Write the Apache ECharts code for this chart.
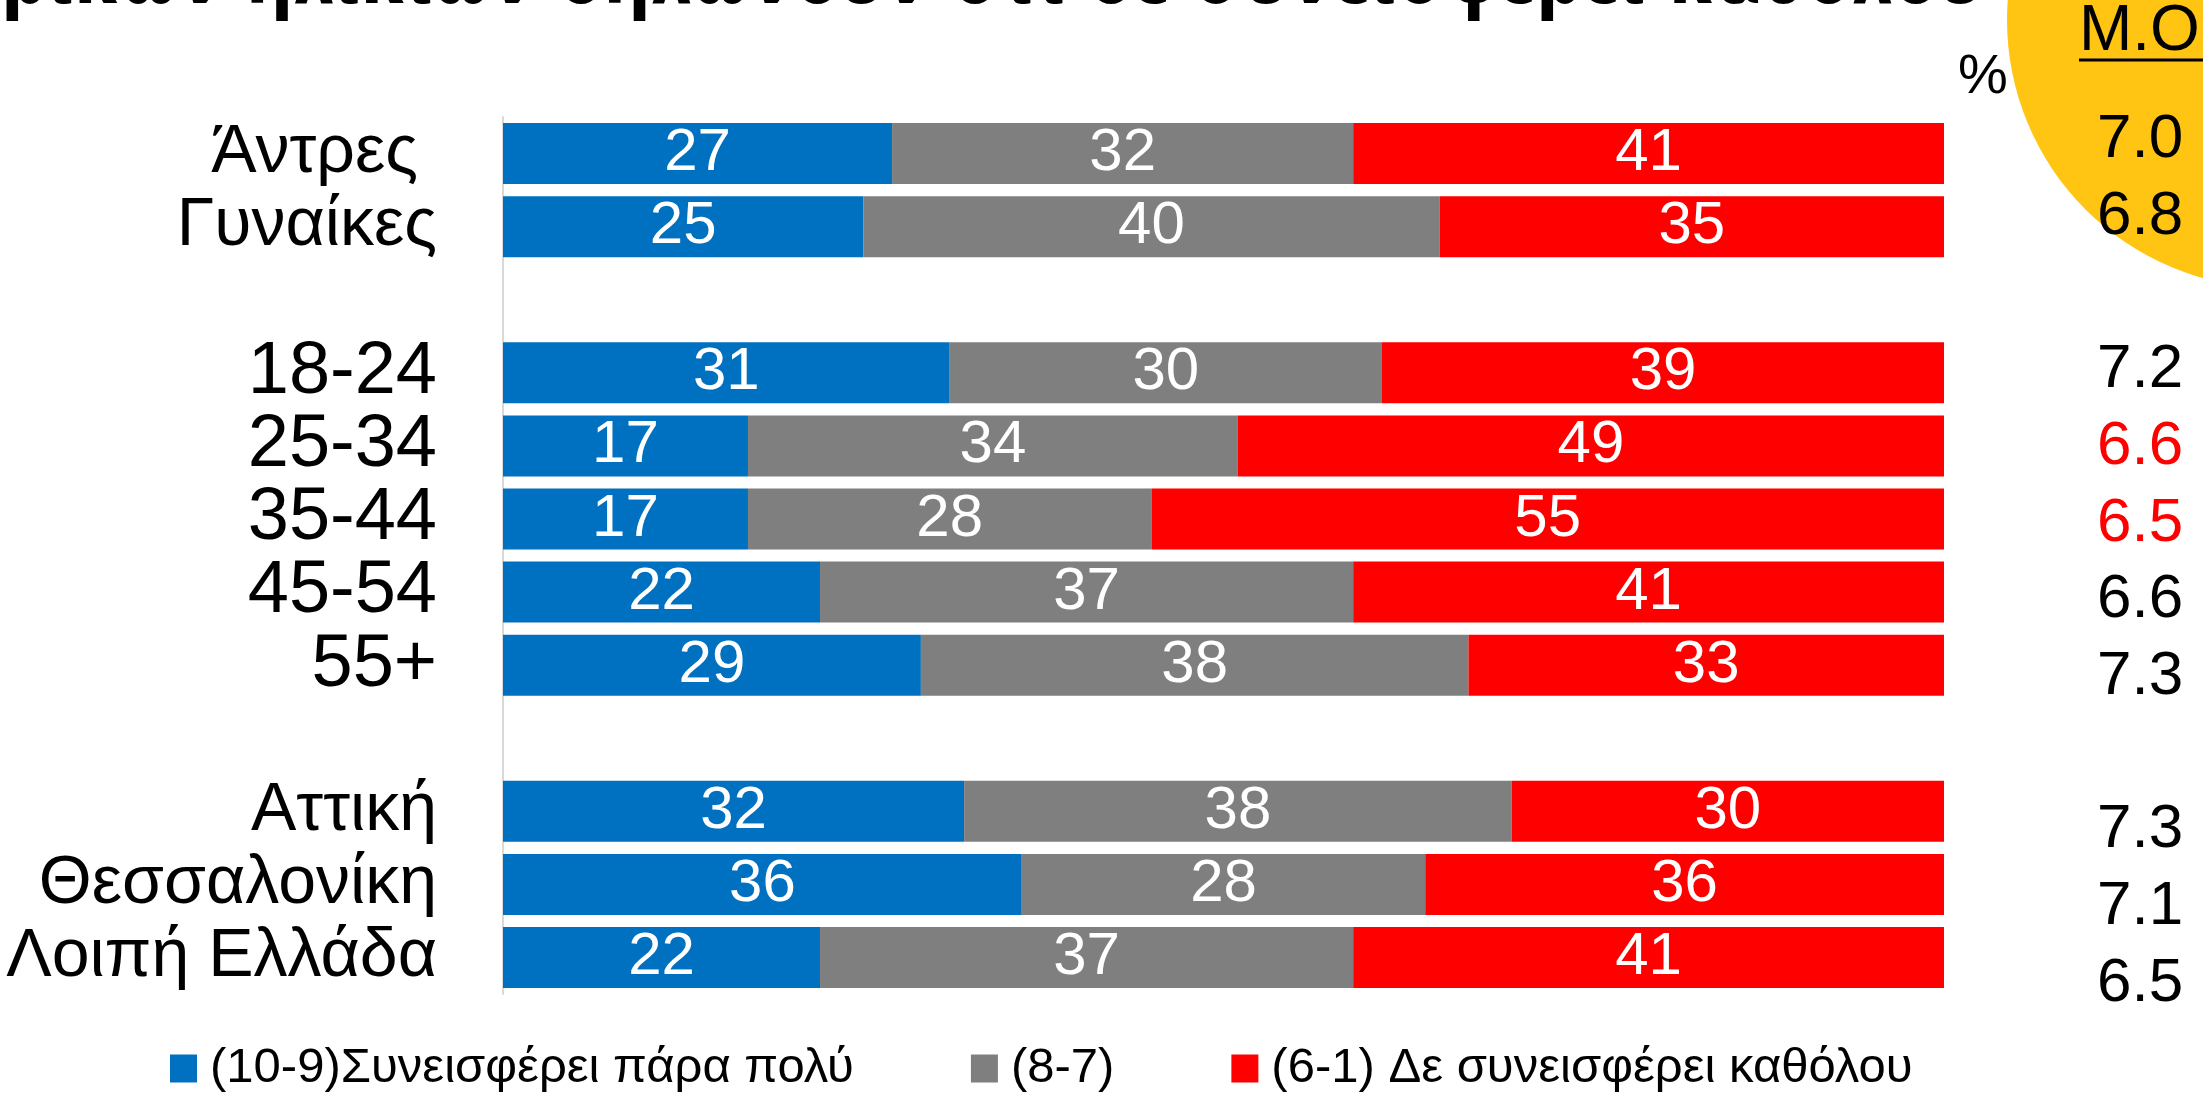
<!DOCTYPE html>
<html>
<head>
<meta charset="utf-8">
<script src="https://cdn.jsdelivr.net/npm/echarts@6/dist/echarts.min.js"></script>
<style>
  html, body { margin: 0; padding: 0; background: #fff; }
  #main { width: 2203px; height: 1096px; }
</style>
</head>
<body>
<div id="main"></div>
<script>
// rows, blank strings are spacer rows between groups
var categories = ['Άντρες ', 'Γυναίκες', '', '18-24', '25-34', '35-44', '45-54', '55+', ' ', 'Αττική', 'Θεσσαλονίκη', 'Λοιπή Ελλάδα'];
var veryMuch = [27, 25, null, 31, 17, 17, 22, 29, null, 32, 36, 22];
var middle = [32, 40, null, 30, 34, 28, 37, 38, null, 38, 28, 37];
var notAtAll = [41, 35, null, 39, 49, 55, 41, 33, null, 30, 36, 41];
// mean score (Μ.Ο) per row, and which ones are shown in red
var avgScores = [7.0, 6.8, null, 7.2, 6.6, 6.5, 6.6, 7.3, null, 7.3, 7.1, 6.5];
var avgRed = [false, false, false, false, true, true, false, false, false, false, false, false];
var seriesNames = ['(10-9)Συνεισφέρει πάρα πολύ', '(8-7)', '(6-1) Δε συνεισφέρει καθόλου'];
var titleText = 'ρικών ηλικιών δηλώνουν ότι δε συνεισφέρει καθόλου';

var chartDom = document.getElementById('main');
var myChart = echarts.init(chartDom);
var option;

function barSeries(name, data, color) {
  return {
    name: name,
    type: 'bar',
    stack: 'all',
    barWidth: 61,
    xAxisIndex: 0,
    yAxisIndex: 0,
    itemStyle: { color: color },
    label: {
      show: true,
      position: 'inside',
      color: '#fff',
      fontSize: 60,
      fontFamily: 'Liberation Sans'
    },
    data: data
  };
}

option = {
  animation: false,
  backgroundColor: '#fff',
  grid: [
    { left: 503, right: 259, top: 117, bottom: 102 },
    { left: 2090, right: 0, top: 102, bottom: 74 }
  ],
  legend: {
    left: 165,
    top: 1039,
    itemWidth: 27,
    itemHeight: 28,
    itemGap: 117,
    icon: 'rect',
    data: seriesNames,
    textStyle: {
      fontSize: 49,
      color: '#000',
      fontFamily: 'Liberation Sans',
      padding: [0, 0, 0, 8]
    }
  },
  xAxis: [
    { type: 'value', gridIndex: 0, min: 0, max: 100, show: false },
    { type: 'value', gridIndex: 1, show: false }
  ],
  yAxis: [
    {
      type: 'category',
      gridIndex: 0,
      inverse: true,
      data: categories,
      axisTick: { show: false },
      axisLine: { show: true, lineStyle: { color: '#d9d9d9', width: 2 } },
      axisLabel: {
        interval: 0,
        margin: 66,
        fontFamily: 'Liberation Sans',
        formatter: function (value) {
          if (!value.trim()) return '';
          // age groups are set a bit larger than the word labels
          return (/^[0-9]/.test(value) ? '{n|' : '{w|') + value + '}';
        },
        rich: {
          w: { fontSize: 68, color: '#000', fontFamily: 'Liberation Sans' },
          n: { fontSize: 74, color: '#000', fontFamily: 'Liberation Sans' }
        }
      }
    },
    {
      type: 'category',
      gridIndex: 1,
      inverse: true,
      data: categories,
      axisTick: { show: false },
      axisLine: { show: false },
      axisLabel: {
        interval: 0,
        inside: true,
        margin: 7,
        fontFamily: 'Liberation Sans',
        formatter: function (value, index) {
          var v = avgScores[index];
          if (v == null) return '';
          return (avgRed[index] ? '{r|' : '{k|') + v.toFixed(1) + '}';
        },
        rich: {
          k: { fontSize: 62, color: '#000', fontFamily: 'Liberation Sans' },
          r: { fontSize: 62, color: '#ff0000', fontFamily: 'Liberation Sans' }
        }
      }
    }
  ],
  graphic: [
    {
      type: 'circle',
      z: -10,
      shape: { cx: 2275, cy: 20, r: 268 },
      style: { fill: '#ffc512' }
    },
    {
      type: 'text',
      x: 1983,
      y: -20,
      scaleX: 0.833,
      style: {
        text: titleText,
        x: 0,
        y: 0,
        align: 'right',
        verticalAlign: 'middle',
        font: 'bold 88px "DejaVu Sans Condensed", sans-serif',
        fill: '#000'
      }
    },
    {
      type: 'text',
      style: {
        text: 'M.O',
        x: 2079,
        y: 32,
        verticalAlign: 'middle',
        font: '64px "Liberation Sans"',
        fill: '#000'
      }
    },
    {
      type: 'line',
      shape: { x1: 2079, y1: 60, x2: 2203, y2: 60 },
      style: { stroke: '#000', lineWidth: 3 }
    },
    {
      type: 'text',
      style: {
        text: '%',
        x: 1958,
        y: 78,
        verticalAlign: 'middle',
        font: '56px "Liberation Sans"',
        fill: '#000'
      }
    }
  ],
  series: [
    barSeries(seriesNames[0], veryMuch, '#0070c0'),
    barSeries(seriesNames[1], middle, '#7f7f7f'),
    barSeries(seriesNames[2], notAtAll, '#ff0000')
  ]
};

option && myChart.setOption(option);
</script>
</body>
</html>
